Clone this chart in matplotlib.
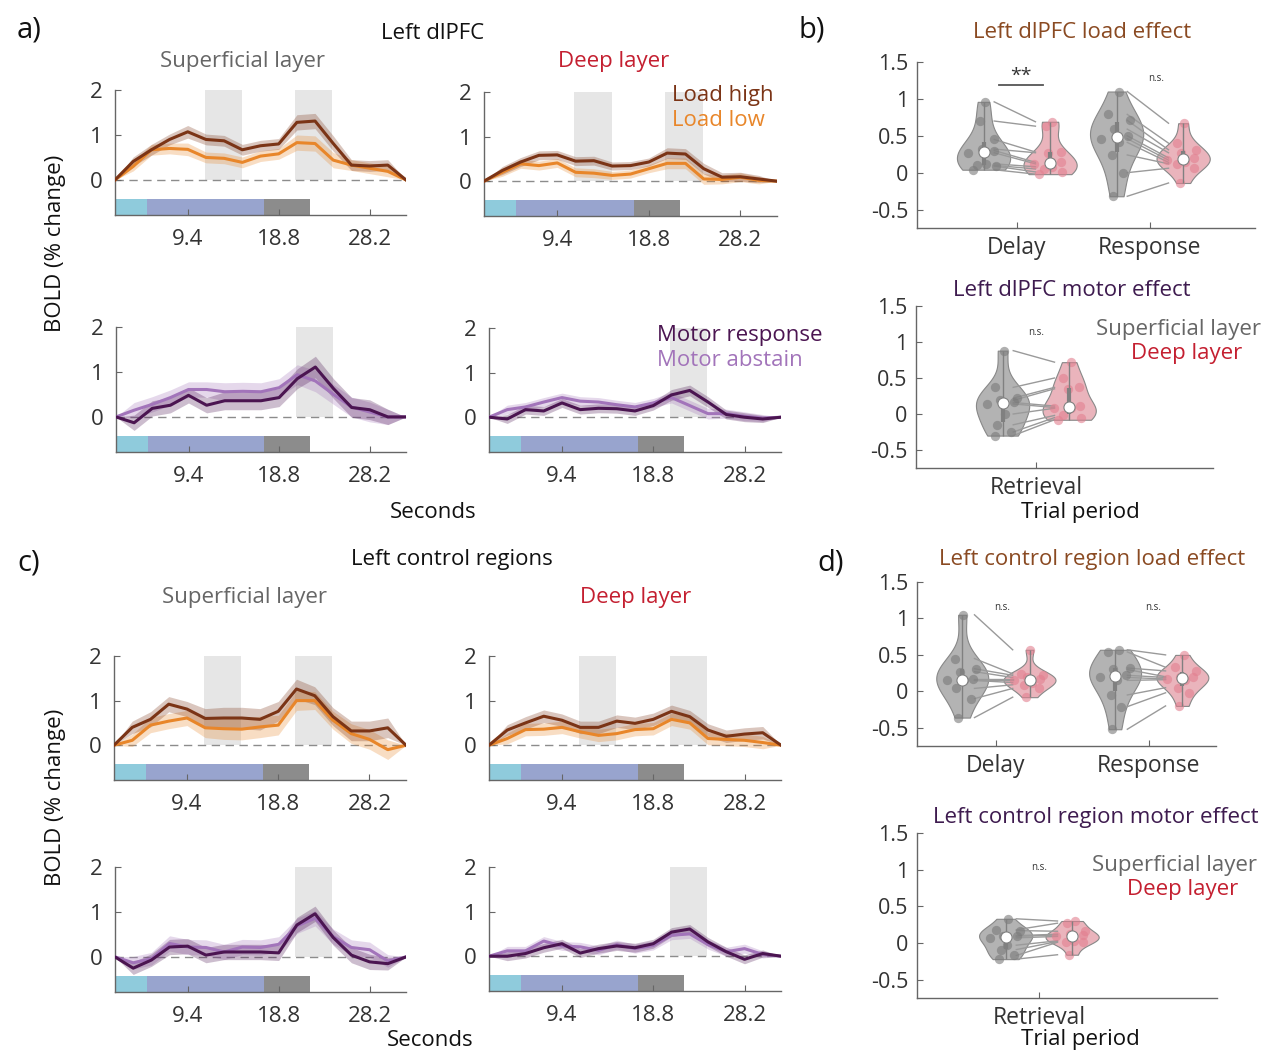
import numpy as np
import matplotlib
matplotlib.use("Agg")
import matplotlib.pyplot as plt
from matplotlib import mlab

plt.rcParams['font.family'] = ['Open Sans', 'DejaVu Sans']

W, H = 1267, 1051

# --- time axis (TR = 1.88 s, 17 volumes) ---
t = [1.88 * k for k in range(1, 18)]
xtick_vals = [9.4, 18.8, 28.2]
xtick_labels = ['9.4', '18.8', '28.2']
ytick_vals = [0, 1, 2]

# trial epochs shown as coloured bars under the curves
epoch_edges = [1.88, 5.17, 17.27, 22.0]
epoch_colors = ['#8fcbdc', '#98a4ce', '#8c8c8c']
# grey analysis windows (delay, response)
win_delay = [11.15, 15.0]
win_resp = [20.5, 24.35]

# --- panel a: left dlPFC ---
a_sup_high = [0, 0.41, 0.67, 0.90, 1.07, 0.90, 0.87, 0.67, 0.76, 0.80, 1.28, 1.31, 0.81, 0.33, 0.31, 0.33, 0]
a_sup_low = [0, 0.30, 0.67, 0.70, 0.68, 0.50, 0.48, 0.39, 0.53, 0.58, 0.83, 0.81, 0.44, 0.33, 0.26, 0.19, 0]
a_sup_sem = [0, .1, .12, .12, .14, .12, .12, .12, .12, .12, .17, .17, .17, .12, .12, .12, 0]

a_deep_high = [0, 0.24, 0.43, 0.58, 0.59, 0.45, 0.46, 0.34, 0.35, 0.43, 0.63, 0.61, 0.28, 0.09, 0.10, 0.05, 0]
a_deep_low = [0, 0.20, 0.39, 0.35, 0.41, 0.20, 0.18, 0.13, 0.16, 0.28, 0.40, 0.40, 0.05, 0.04, 0.09, 0.02, 0]
a_deep_sem = [0, .09, .1, .1, .1, .1, .1, .09, .09, .09, .12, .12, .12, .1, .1, .08, 0]

a_sup_resp = [0, -0.13, 0.19, 0.26, 0.48, 0.26, 0.36, 0.36, 0.36, 0.43, 0.85, 1.11, 0.63, 0.21, 0.16, 0, 0]
a_sup_abst = [0, 0.15, 0.28, 0.43, 0.61, 0.61, 0.56, 0.57, 0.56, 0.65, 0.94, 0.80, 0.50, 0.22, 0.11, 0, 0]
a_sup_m_sem = [0, .17, .17, .17, .17, .17, .2, .2, .2, .2, .22, .24, .22, .22, .22, .17, 0]

a_deep_resp = [0, -0.04, 0.17, 0.14, 0.32, 0.17, 0.20, 0.19, 0.14, 0.26, 0.50, 0.60, 0.34, 0.06, 0, -0.04, 0]
a_deep_abst = [0, 0.17, 0.23, 0.34, 0.44, 0.36, 0.34, 0.28, 0.23, 0.32, 0.44, 0.26, 0.08, 0.08, 0.02, -0.02, 0]
a_deep_m_sem = [0, .1, .1, .1, .1, .1, .1, .1, .1, .1, .12, .12, .12, .1, .1, .08, 0]

# --- panel c: left control regions ---
c_sup_high = [0, 0.40, 0.58, 0.92, 0.81, 0.60, 0.61, 0.61, 0.58, 0.76, 1.26, 1.11, 0.64, 0.32, 0.32, 0.39, 0]
c_sup_low = [0, 0.11, 0.45, 0.54, 0.61, 0.39, 0.37, 0.36, 0.41, 0.45, 1.00, 1.00, 0.56, 0.26, 0.13, -0.10, 0]
c_sup_sem = [0, .14, .17, .17, .17, .22, .24, .24, .24, .22, .22, .2, .2, .22, .22, .22, 0]

c_deep_high = [0, 0.34, 0.50, 0.65, 0.56, 0.40, 0.40, 0.54, 0.49, 0.58, 0.76, 0.64, 0.34, 0.20, 0.25, 0.28, 0]
c_deep_low = [0, 0.15, 0.35, 0.36, 0.40, 0.30, 0.22, 0.26, 0.35, 0.37, 0.58, 0.50, 0.15, 0.13, 0.11, 0.06, 0]
c_deep_sem = [0, .12, .14, .14, .14, .14, .14, .14, .14, .14, .14, .14, .14, .14, .14, .14, 0]

c_sup_resp = [0, -0.25, -0.07, 0.22, 0.24, 0.04, 0.11, 0.11, 0.11, 0.09, 0.71, 0.96, 0.43, 0.04, -0.11, -0.15, 0]
c_sup_abst = [0, -0.13, -0.04, 0.30, 0.22, 0.21, 0.11, 0.22, 0.21, 0.28, 0.69, 0.86, 0.45, 0.21, 0.16, -0.09, 0]
c_sup_m_sem = [0, .14, .14, .17, .17, .17, .17, .17, .17, .17, .17, .17, .17, .17, .17, .14, 0]

c_deep_resp = [0, 0, 0.06, 0.19, 0.28, 0.07, 0.17, 0.23, 0.19, 0.28, 0.54, 0.61, 0.32, 0.10, -0.07, 0.06, 0]
c_deep_abst = [0, 0.12, 0.12, 0.34, 0.23, 0.21, 0.13, 0.26, 0.17, 0.24, 0.47, 0.50, 0.26, 0.10, 0.17, 0.04, 0]
c_deep_m_sem = [0, .1, .1, .1, .1, .1, .1, .1, .1, .1, .1, .1, .1, .1, .1, .08, 0]

# --- violin data (per subject, superficial vs deep) ---
v_ytick_vals = [-0.5, 0, 0.5, 1, 1.5]
v_ytick_labels = ['-0.5', '0', '0.5', '1', '1.5']

b_sup_delay = [0.96, 0.70, 0.45, 0.32, 0.30, 0.27, 0.12, 0.10, 0.09, 0.04]
b_deep_delay = [0.69, 0.63, 0.28, 0.27, 0.14, 0.12, 0.08, 0.05, 0.01, -0.02]
b_sup_resp = [1.10, 0.79, 0.71, 0.59, 0.50, 0.46, 0.41, 0.24, 0.00, -0.32]
b_deep_resp = [0.67, 0.40, 0.31, 0.27, 0.20, 0.17, 0.14, 0.12, 0.06, -0.14]
b_sup_motor = [0.88, 0.37, 0.22, 0.19, 0.16, 0.14, 0.00, -0.15, -0.25, -0.30]
b_deep_motor = [0.72, 0.50, 0.37, 0.35, 0.11, 0.09, 0.08, -0.02, -0.05, -0.08]

d_sup_delay = [1.05, 0.45, 0.31, 0.27, 0.17, 0.15, 0.15, 0.04, -0.10, -0.36]
d_deep_delay = [0.57, 0.24, 0.22, 0.19, 0.17, 0.15, 0.12, 0.09, 0.04, -0.08]
d_sup_resp = [0.57, 0.54, 0.32, 0.30, 0.22, 0.19, 0.15, -0.05, -0.21, -0.52]
d_deep_resp = [0.50, 0.33, 0.28, 0.20, 0.19, 0.17, 0.16, 0.05, -0.02, -0.20]
d_sup_motor = [0.33, 0.18, 0.17, 0.10, 0.09, 0.07, -0.03, -0.09, -0.17, -0.22]
d_deep_motor = [0.30, 0.27, 0.16, 0.12, 0.11, 0.09, 0.03, 0.02, 0.01, -0.16]

# colours
c_high, c_low = '#7b3416', '#e8862a'
c_resp, c_abst = '#4b1551', '#a274ba'
c_text = '#333333'
c_axis = '#666666'
c_red = '#c41f30'
c_brown = '#8a4a22'
c_purple = '#3e1b4f'

jit = [0.3, -0.5, 0.7, -0.1, 0.5, -0.7, 0.1, -0.3, 0.6, -0.6]
FS = 16

fig = plt.figure(figsize=(W / 100, H / 100), dpi=100)


def px_axes(x0, y0, x1, y1):
    return fig.add_axes([x0 / W, 1 - y1 / H, (x1 - x0) / W, (y1 - y0) / H])


def ftext(x, y, s, **kw):
    kw.setdefault('color', c_text)
    kw.setdefault('ha', 'center')
    kw.setdefault('va', 'center')
    kw.setdefault('fontsize', FS)
    fig.text(x / W, 1 - y / H, s, **kw)


def style_axes(ax, lsize):
    for s in ['top', 'right']:
        ax.spines[s].set_visible(False)
    for s in ['left', 'bottom']:
        ax.spines[s].set_color(c_axis)
        ax.spines[s].set_linewidth(1)
    ax.tick_params(direction='in', length=4, color=c_axis, labelcolor=c_text, labelsize=lsize)


def ts_panel(box, y1, y2, sem, col1, col2, windows):
    ax = px_axes(*box)
    style_axes(ax, FS)
    for w in windows:
        ax.axvspan(w[0], w[1], ymin=0.78 / 2.78, ymax=1, color='#e6e6e6', lw=0, zorder=0)
    for i in range(3):
        ax.axvspan(epoch_edges[i], epoch_edges[i + 1], ymin=0, ymax=0.35 / 2.78,
                   color=epoch_colors[i], lw=0, zorder=1)
    ax.axhline(0, color='#8c8c8c', ls=(0, (6, 4)), lw=1, zorder=1)
    y1 = np.array(y1); y2 = np.array(y2); e = np.array(sem)
    for y, c in [(y2, col2), (y1, col1)]:
        ax.fill_between(t, y - e, y + e, color=c, alpha=0.28, lw=0, zorder=2)
        ax.plot(t, y, color=c, lw=2.2, zorder=3)
    ax.set_xlim(t[0], t[-1])
    ax.set_ylim(-0.78, 2)
    ax.set_xticks(xtick_vals)
    ax.set_xticklabels(xtick_labels)
    ax.set_yticks(ytick_vals)
    ax.tick_params(axis='x', pad=10)
    ax.tick_params(axis='y', pad=9)
    return ax


def violin_panel(box, xlim, cats, cat_labels, sup_sets, deep_sets, off, width):
    ax = px_axes(*box)
    style_axes(ax, 15.5)
    for pos, s, d in zip(cats, sup_sets, deep_sets):
        xs, xd = pos - off, pos + off
        for i in range(len(s)):
            ax.plot([xs + 0.08, xd - 0.11], [s[i], d[i]], color='#9a9a9a', lw=1, zorder=3)
        for vals, x, face, pc in [(s, xs, '#b3b3b3', '#7a7a7a'), (d, xd, '#eab4bc', '#e27f8f')]:
            vals = np.array(vals)
            parts = ax.violinplot(vals, positions=[x], widths=width, showextrema=False,
                                  bw_method=0.6)
            for b in parts['bodies']:
                b.set_facecolor(face)
                b.set_edgecolor('#888888')
                b.set_linewidth(0.8)
                b.set_alpha(1)
                b.set_zorder(2)
            kde = mlab.GaussianKDE(vals, 0.6)
            grid = np.linspace(vals.min(), vals.max(), 100)
            dmax = kde.evaluate(grid).max()
            hw = kde.evaluate(vals) / dmax * width / 2
            px = x + np.array(jit[:len(vals)]) * hw * 0.85
            ax.scatter(px, vals, s=45, color=pc, alpha=0.6, lw=0, zorder=4)
            q1, med, q3 = np.percentile(vals, [25, 50, 75])
            ax.vlines(x, vals.min(), vals.max(), color='#808080', lw=1, zorder=5)
            ax.vlines(x, q1, q3, color='#808080', lw=3, zorder=5)
            ax.plot(x, med, 'o', mfc='white', mec='#808080', ms=8, mew=0.8, zorder=6)
    ax.set_xlim(*xlim)
    ax.set_ylim(-0.75, 1.5)
    ax.set_xticks(cats)
    ax.set_xticklabels(cat_labels, fontsize=FS + 0.5)
    ax.set_yticks(v_ytick_vals)
    ax.set_yticklabels(v_ytick_labels)
    ax.tick_params(axis='x', pad=6)
    ax.tick_params(axis='y', pad=6)
    return ax


# ---------- panel a ----------
ts_panel((115, 90, 406, 215), a_sup_high, a_sup_low, a_sup_sem, c_high, c_low, [win_delay, win_resp])
ts_panel((484, 92, 777, 216), a_deep_high, a_deep_low, a_deep_sem, c_high, c_low, [win_delay, win_resp])
ts_panel((116, 327, 406, 452), a_sup_resp, a_sup_abst, a_sup_m_sem, c_resp, c_abst, [win_resp])
ts_panel((489, 328, 781, 452), a_deep_resp, a_deep_abst, a_deep_m_sem, c_resp, c_abst, [win_resp])

# ---------- panel c ----------
ts_panel((114, 656, 406, 780), c_sup_high, c_sup_low, c_sup_sem, c_high, c_low, [win_delay, win_resp])
ts_panel((489, 656, 781, 780), c_deep_high, c_deep_low, c_deep_sem, c_high, c_low, [win_delay, win_resp])
ts_panel((115, 867, 406, 992), c_sup_resp, c_sup_abst, c_sup_m_sem, c_resp, c_abst, [win_resp])
ts_panel((489, 867, 781, 991), c_deep_resp, c_deep_abst, c_deep_m_sem, c_resp, c_abst, [win_resp])

# ---------- panel b ----------
axb1 = violin_panel((917, 62, 1255, 228), (0.25, 2.79), [1, 2], ['Delay', 'Response'],
                    [b_sup_delay, b_sup_resp], [b_deep_delay, b_deep_resp], 0.25, 0.4)
axb1.plot([0.865, 1.195], [1.19, 1.19], color='#555555', lw=1.3)
axb1.text(1.03, 1.19, '**', ha='center', va='bottom', fontsize=14, color=c_text)
axb1.text(2.05, 1.2, 'n.s.', ha='center', va='bottom', fontsize=7, color=c_text)

axb2 = violin_panel((916, 306, 1213, 468), (0.10, 2.33), [1], ['Retrieval'],
                    [b_sup_motor], [b_deep_motor], 0.25, 0.4)
axb2.text(1.0, 1.05, 'n.s.', ha='center', va='bottom', fontsize=7, color=c_text)

# ---------- panel d ----------
axd1 = violin_panel((917, 582, 1216, 746), (0.484, 2.44), [1, 2], ['Delay', 'Response'],
                    [d_sup_delay, d_sup_resp], [d_deep_delay, d_deep_resp], 0.22, 0.34)
axd1.text(1.04, 1.08, 'n.s.', ha='center', va='bottom', fontsize=7, color=c_text)
axd1.text(2.03, 1.08, 'n.s.', ha='center', va='bottom', fontsize=7, color=c_text)

axd2 = violin_panel((917, 833, 1217, 998), (0.083, 2.34), [1], ['Retrieval'],
                    [d_sup_motor], [d_deep_motor], 0.25, 0.4)
axd2.text(1.0, 0.95, 'n.s.', ha='center', va='bottom', fontsize=7, color=c_text)

# ---------- text ----------
ftext(29, 30, 'a)', fontsize=21, color='#111111')
ftext(812, 30, 'b)', fontsize=21, color='#111111')
ftext(29, 563, 'c)', fontsize=21, color='#111111')
ftext(831, 563, 'd)', fontsize=21, color='#111111')

ftext(433, 33, 'Left dlPFC', color='#111111')
ftext(243, 62, 'Superficial layer', color='#666666')
ftext(614, 62, 'Deep layer', color=c_red)
ftext(672, 95, 'Load high', color=c_high, ha='left')
ftext(672, 120, 'Load low', color=c_low, ha='left')
ftext(657, 336, 'Motor response', color=c_resp, ha='left')
ftext(657, 360, 'Motor abstain', color=c_abst, ha='left')
ftext(55, 243, 'BOLD (% change)', rotation=90, color='#111111')
ftext(433, 512, 'Seconds', color='#111111')

ftext(452, 560, 'Left control regions', color='#111111')
ftext(245, 597, 'Superficial layer', color='#666666')
ftext(636, 597, 'Deep layer', color=c_red)
ftext(55, 797, 'BOLD (% change)', rotation=90, color='#111111')
ftext(430, 1040, 'Seconds', color='#111111')

ftext(1082, 32, 'Left dlPFC load effect', color=c_brown)
ftext(1072, 291, 'Left dlPFC motor effect', color=c_purple)
ftext(1179, 329, 'Superficial layer', color='#666666')
ftext(1187, 353, 'Deep layer', color=c_red)
ftext(1080, 512, 'Trial period', color='#111111')

ftext(1092, 560, 'Left control region load effect', color=c_brown)
ftext(1096, 818, 'Left control region motor effect', color=c_purple)
ftext(1175, 866, 'Superficial layer', color='#666666')
ftext(1183, 890, 'Deep layer', color=c_red)
ftext(1080, 1040, 'Trial period', color='#111111')

fig.savefig('out.png', dpi=100)
